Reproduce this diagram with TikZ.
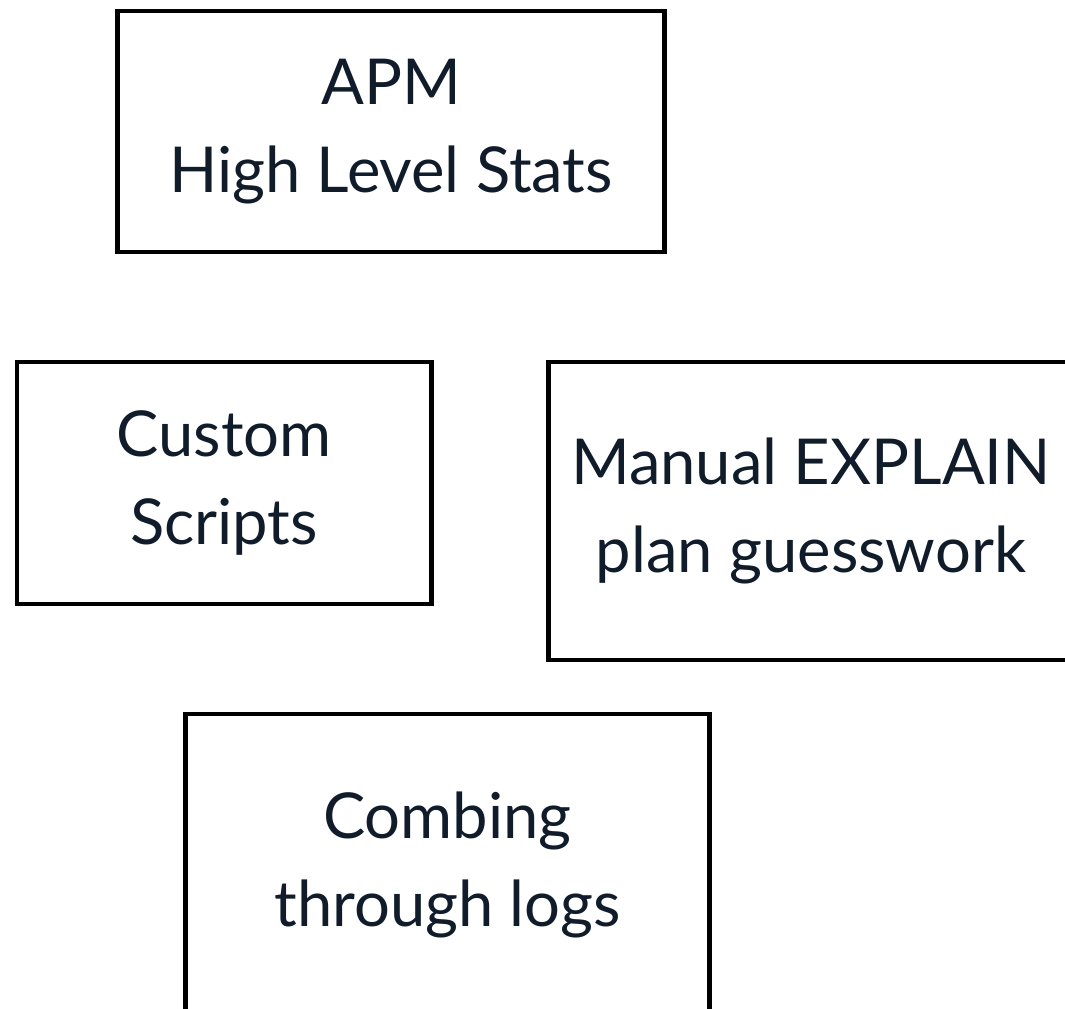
\documentclass[tikz,border=0pt]{standalone}
\usepackage{fontspec}
\setmainfont{Lato}
\usepackage{tikz}
\usetikzlibrary{positioning}
\definecolor{textnavy}{HTML}{111C2B}

\tikzset{
    toolbox/.style={draw=black, line width=1.35pt, align=center, text=textnavy,
        font=\fontsize{18}{25}\selectfont, inner sep=0pt}
}

\begin{document}
\begin{tikzpicture}[x=0.01cm, y=-0.01cm]
    % Frame
    \useasboundingbox (0,0) rectangle (1065,1008);
    \clip (0,0) rectangle (1065,1008);

    % APM box
    \node[toolbox, minimum width=5.46cm, minimum height=2.41cm] (apm) at (391,131.5) {APM\\High Level Stats};

    % Custom scripts
    \node[toolbox, minimum width=4.14cm, minimum height=2.42cm] (scripts) at (224,483) {Custom\\Scripts};

    % Manual EXPLAIN (runs off the right edge)
    \node[toolbox, minimum width=5.24cm, minimum height=2.98cm] (explain) at (811,511) {Manual EXPLAIN\\plan guesswork};

    % Combing through logs (runs off the bottom)
    \node[toolbox, minimum width=5.23cm, minimum height=3.02cm] (logs) at (447.5,865) {Combing\\through logs};
\end{tikzpicture}
\end{document}
